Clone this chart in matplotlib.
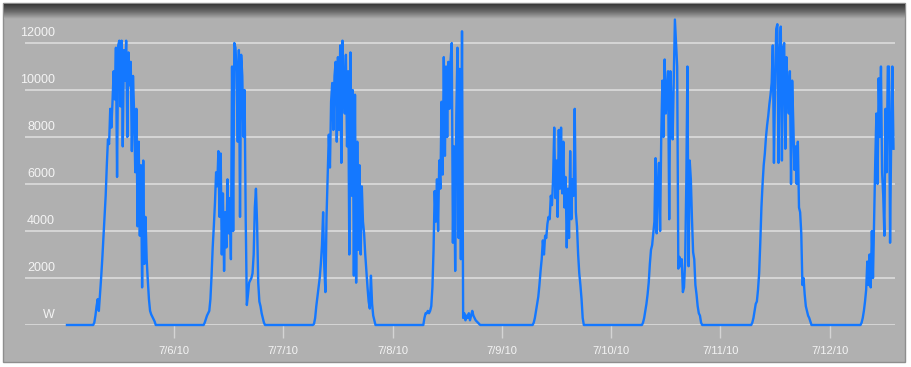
import datetime as dt

import numpy as np
import matplotlib
matplotlib.use("Agg")
import matplotlib.pyplot as plt
import matplotlib.dates as mdates
from matplotlib.patches import Rectangle

# power readings (W), one every 15 minutes starting 06:00 each day
DAYS = ["2010-07-05", "2010-07-06", "2010-07-07", "2010-07-08",
        "2010-07-09", "2010-07-10", "2010-07-11", "2010-07-12"]
FIRST_READING = "2010-07-05 00:30"
DAY_START = "06:00"
STEP_MIN = 15

watts_0705 = [0, 0, 100, 400, 800, 1100, 600, 1300, 2000, 2800, 3700, 4600,
              5500, 6800, 7900, 7700, 9200, 8400, 9500, 10800, 9600, 11800,
              6300, 11900, 12100, 9300, 12100, 7600, 11700, 10400, 12100, 8000,
              11600, 10200, 11200, 7400, 10600, 9000, 6500, 9200, 4200, 7800,
              3800, 6800, 1600, 7000, 2600, 4600, 2800, 1900, 1100, 600, 450,
              350, 250, 150, 0]
watts_0706 = [0, 0, 0, 100, 250, 400, 500, 600, 1100, 2100, 3300, 4200, 5200,
              6500, 5900, 7400, 4600, 7300, 3000, 5600, 2300, 4800, 3300, 6200,
              3900, 5400, 2800, 11000, 4000, 12000, 11800, 10800, 7800, 11700,
              4600, 11500, 10600, 8000, 10000, 4500, 850, 1300, 1800, 1900,
              2000, 2200, 3000, 5000, 5800, 4300, 1800, 1000, 800, 500, 300,
              100, 0]
watts_0707 = [0, 0, 0, 50, 300, 800, 1200, 1600, 2000, 2600, 3400, 4800, 2500,
              1400, 4600, 6300, 8100, 6700, 9500, 10300, 8300, 10600, 11200,
              7800, 11400, 8300, 11900, 6900, 12100, 10200, 9000, 11500, 7600,
              10800, 3000, 11600, 5500, 10000, 2100, 9800, 1800, 7800, 3200,
              6800, 3000, 5900, 4400, 3900, 3000, 2300, 1600, 1000, 700, 2100,
              900, 400, 200, 0]
watts_0708 = [0, 0, 0, 0, 300, 500, 500, 600, 500, 600, 800, 1600, 3200, 5700,
              4400, 6200, 4000, 7000, 5800, 9500, 6400, 11400, 7200, 11000,
              8000, 11200, 9200, 11300, 12000, 3500, 7600, 2300, 8900, 11800,
              3700, 10900, 2800, 12500, 300, 500, 200, 400, 300, 500, 200, 400,
              600, 400, 300, 200, 150, 100, 50, 0]
watts_0709 = [0, 0, 0, 0, 100, 300, 600, 900, 1200, 1700, 2300, 2800, 3600,
              3000, 3800, 3700, 4300, 4600, 4500, 5500, 5100, 6200, 8400, 5400,
              7000, 4600, 8300, 5800, 8400, 5600, 7800, 5000, 6300, 3300, 5800,
              3700, 7400, 4500, 6200, 5500, 9200, 4800, 4200, 3000, 2200, 1700,
              1100, 300, 0]
watts_0710 = [0, 0, 0, 0, 100, 300, 600, 900, 1300, 1800, 2600, 3200, 3400,
              3900, 4400, 7100, 3900, 6000, 6900, 4000, 8000, 10400, 8000,
              11300, 9000, 10000, 10800, 4500, 10800, 9500, 7900, 10500, 13000,
              12000, 11000, 2400, 2900, 2500, 2800, 1400, 1600, 2700, 6000,
              11000, 2500, 7000, 6200, 4500, 3100, 2800, 1700, 1300, 800, 500,
              400, 100, 0]
watts_0711 = [0, 0, 0, 0, 100, 300, 600, 900, 1000, 1500, 2200, 3500, 5000,
              6000, 6800, 7300, 8000, 8500, 8900, 9400, 9800, 10300, 11900,
              6900, 10200, 12600, 12800, 6900, 11500, 12700, 7000, 11800, 12000,
              7500, 11400, 10000, 9000, 10800, 6000, 10400, 8600, 6600, 7600,
              6000, 7800, 5000, 4800, 3900, 1700, 2000, 1300, 800, 600, 400,
              300, 150, 0]
watts_0712 = [0, 0, 0, 0, 100, 300, 600, 1000, 1500, 2700, 1700, 3000, 1600,
              4000, 2000, 4500, 7000, 9000, 6000, 10500, 8000, 11000, 6500,
              5500, 3800, 9200, 6500, 11000, 11000, 3500, 8000, 11000, 7500]

DAILY = [watts_0705, watts_0706, watts_0707, watts_0708,
         watts_0709, watts_0710, watts_0711, watts_0712]

# labelled days on the x axis
TICK_DAYS = DAYS[1:]

Y_TICKS = [0, 2000, 4000, 6000, 8000, 10000, 12000]
Y_LABELS = ["W", "2000", "4000", "6000", "8000", "10000", "12000"]

# build the time series
times = [dt.datetime.strptime(FIRST_READING, "%Y-%m-%d %H:%M")]
power = [0]
for day, watts in zip(DAYS, DAILY):
    t0 = dt.datetime.strptime(day + " " + DAY_START, "%Y-%m-%d %H:%M")
    for i, w in enumerate(watts):
        times.append(t0 + dt.timedelta(minutes=STEP_MIN * i))
        power.append(w)

W, H = 911, 367
fig = plt.figure(figsize=(W / 100, H / 100), dpi=100)
fig.patch.set_facecolor("white")

# grey panel with a dark fading strip along the top
fig.patches.append(Rectangle((3 / W, 1 - 362 / H), 902 / W, 359 / H,
                             transform=fig.transFigure, facecolor="#b0b0b0",
                             edgecolor="#8e8e8e", lw=1, zorder=0))
bar = fig.add_axes([3.5 / W, 1 - 19 / H, 901 / W, 15 / H], zorder=1)
grad = np.linspace(0, 1, 60).reshape(-1, 1)
bar.imshow(grad, aspect="auto", cmap=matplotlib.colors.LinearSegmentedColormap.from_list(
    "strip", ["#383838", "#6a6a6a", "#b0b0b0"]), extent=(0, 1, 0, 1))
bar.axis("off")

ax = fig.add_axes([25 / W, 1 - 325 / H, 870 / W, 313 / H], zorder=2)
ax.patch.set_alpha(0)
ax.plot(mdates.date2num(times), power, color="#1478ff", lw=1.7,
        clip_on=False, zorder=3)

ax.set_xlim(mdates.date2num(dt.datetime(2010, 7, 4, 15, 17)),
            mdates.date2num(dt.datetime(2010, 7, 12, 14, 20)))
ax.set_ylim(0, 13320)

ax.set_yticks(Y_TICKS)
ax.grid(axis="y", color="#d8d8d8", lw=1.3)
ax.tick_params(axis="y", length=0, labelleft=False)
for v, lbl in zip(Y_TICKS, Y_LABELS):
    ax.annotate(lbl, xy=(30 / 870, v), xycoords=ax.get_yaxis_transform(),
                xytext=(0, 5), textcoords="offset points", ha="right",
                va="baseline", color="#f4f4f4", fontsize=9,
                family="Liberation Sans")

tick_dates = [dt.datetime.strptime(d, "%Y-%m-%d") for d in TICK_DAYS]
ax.set_xticks(mdates.date2num(tick_dates))
ax.set_xticklabels(["{d.month}/{d.day}/{d:%y}".format(d=d) for d in tick_dates],
                   family="Liberation Sans")
ax.tick_params(axis="x", length=9, width=1, color="#d4d4d4",
               labelcolor="#f4f4f4", labelsize=8, pad=6)

for s in ax.spines.values():
    s.set_visible(False)

fig.savefig("out.png", dpi=100, facecolor="white")
